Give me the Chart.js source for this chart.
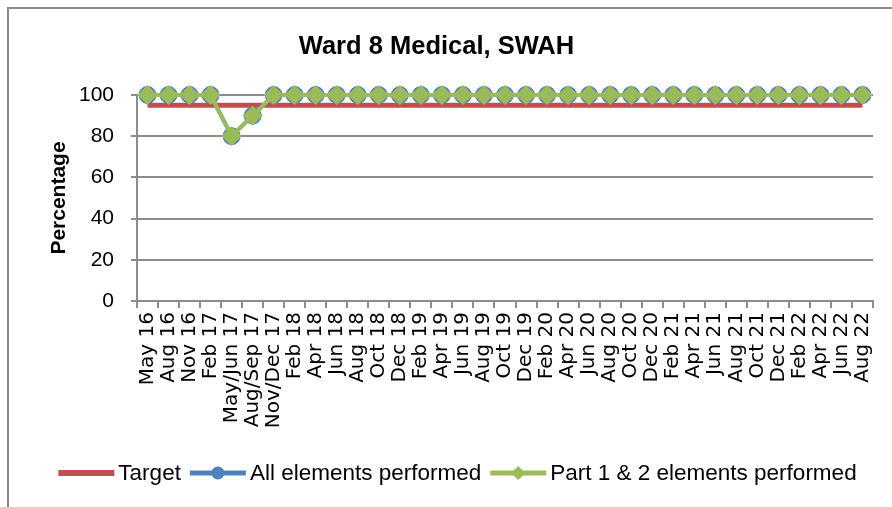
<!DOCTYPE html>
<html>
<head>
<meta charset="utf-8">
<script src="https://cdn.jsdelivr.net/npm/chart.js@4"></script>
<style>
  html, body { margin: 0; padding: 0; background: #fff; }
  #frame { position: absolute; left: 7px; top: 7px; width: 900px; height: 510px;
           border-left: 2px solid #8a8a8a; border-top: 2px solid #8a8a8a; }
  #wrap { position: absolute; left: 0; top: 0; width: 892px; height: 507px; }
</style>
</head>
<body>
<div id="frame"></div>
<div id="wrap"><canvas id="myChart" width="892" height="507"></canvas></div>
<script>
// tick labels along the x axis
var labels = ['May 16', 'Aug 16', 'Nov 16', 'Feb 17', 'May/Jun 17', 'Aug/Sep 17', 'Nov/Dec 17',
  'Feb 18', 'Apr 18', 'Jun 18', 'Aug 18', 'Oct 18', 'Dec 18',
  'Feb 19', 'Apr 19', 'Jun 19', 'Aug 19', 'Oct 19', 'Dec 19',
  'Feb 20', 'Apr 20', 'Jun 20', 'Aug 20', 'Oct 20', 'Dec 20',
  'Feb 21', 'Apr 21', 'Jun 21', 'Aug 21', 'Oct 21', 'Dec 21',
  'Feb 22', 'Apr 22', 'Jun 22', 'Aug 22']

var target = [95, 95, 95, 95, 95, 95, 95, 95, 95, 95, 95, 95, 95, 95, 95, 95, 95, 95,
  95, 95, 95, 95, 95, 95, 95, 95, 95, 95, 95, 95, 95, 95, 95, 95, 95]

var allElements = [100, 100, 100, 100, 80, 90, 100, 100, 100, 100, 100, 100, 100, 100, 100, 100, 100, 100,
  100, 100, 100, 100, 100, 100, 100, 100, 100, 100, 100, 100, 100, 100, 100, 100, 100]

var part12 = [100, 100, 100, 100, 80, 90, 100, 100, 100, 100, 100, 100, 100, 100, 100, 100, 100, 100,
  100, 100, 100, 100, 100, 100, 100, 100, 100, 100, 100, 100, 100, 100, 100, 100, 100]

var yTicks = [0, 20, 40, 60, 80, 100]

var gridGray = '#8c8c8c'

// legend drawn under the chart: line with marker in the middle, then the text
var bottomLegend = {
    id: 'bottomLegend',
    afterDraw: function(chart) {
        var ctx = chart.ctx
        var y = 473
        var items = chart.data.datasets.slice().sort(function(a, b) { return a.legendIndex - b.legendIndex })
        ctx.save()
        ctx.font = '22.5px "Liberation Sans", Arial, sans-serif'
        ctx.textBaseline = 'middle'
        var lineW = 56
        var widths = items.map(function(d) { return lineW + 5 + ctx.measureText(d.label).width })
        var gap = 8
        var total = widths.reduce(function(s, w) { return s + w }, 0) + gap * (items.length - 1)
        var x = 458 - total / 2
        items.forEach(function(d, i) {
            ctx.strokeStyle = d.borderColor
            ctx.lineWidth = d.borderWidth + 1
            ctx.beginPath()
            ctx.moveTo(x, y)
            ctx.lineTo(x + lineW, y)
            ctx.stroke()
            var cx = x + lineW / 2
            ctx.fillStyle = d.borderColor
            if (d.pointRadius > 0) {
                ctx.beginPath()
                if (d.pointStyle === 'rectRot') {
                    ctx.moveTo(cx, y - 7); ctx.lineTo(cx + 7, y); ctx.lineTo(cx, y + 7); ctx.lineTo(cx - 7, y)
                    ctx.closePath()
                } else {
                    ctx.arc(cx, y, 6.5, 0, Math.PI * 2)
                }
                ctx.fill()
            }
            ctx.fillStyle = '#000'
            ctx.fillText(d.label, x + lineW + 4, y + 1)
            x += widths[i] + gap
        })
        ctx.restore()
    }
}

var ctx = document.getElementById('myChart')
var myChart = new Chart(ctx, {
    type: 'line',
    data: {
        labels: labels,
        datasets: [{
            label: 'Part 1 & 2 elements performed',
            legendIndex: 2,
            data: part12,
            borderColor: '#9BBB59',
            backgroundColor: '#9BBB59',
            borderWidth: 4,
            pointStyle: 'rectRot',
            pointRadius: 9.5,
            pointBorderWidth: 1,
            pointBorderColor: '#9BBB59',
            order: 0,
            clip: false
        }, {
            label: 'All elements performed',
            legendIndex: 1,
            data: allElements,
            borderColor: '#4F81BD',
            backgroundColor: '#4F81BD',
            borderWidth: 4,
            pointStyle: 'circle',
            pointRadius: 8.5,
            pointBorderWidth: 1,
            order: 1,
            clip: false
        }, {
            label: 'Target',
            legendIndex: 0,
            data: target,
            borderColor: '#C0504D',
            backgroundColor: '#C0504D',
            borderWidth: 5,
            pointRadius: 0,
            order: 2,
            clip: false
        }]
    },
    options: {
        responsive: false,
        animation: false,
        events: [],
        layout: { padding: { left: 0, right: 19, top: 0, bottom: 56 } },
        plugins: {
            legend: { display: false },
            tooltip: { enabled: false },
            title: {
                display: true,
                text: 'Ward 8 Medical, SWAH',
                color: '#000',
                font: { family: '"Liberation Sans", Arial, sans-serif', size: 25.5, weight: 'bold' },
                padding: { top: 32, bottom: 32.4 }
            }
        },
        scales: {
            x: {
                offset: true,
                afterFit: function(s) { s.height = 150 },
                grid: {
                    offset: true,
                    drawOnChartArea: false,
                    drawTicks: true,
                    tickLength: 7,
                    color: gridGray,
                    lineWidth: 2
                },
                border: { color: gridGray, width: 2 },
                ticks: {
                    autoSkip: false,
                    minRotation: 90,
                    maxRotation: 90,
                    padding: 4,
                    color: '#000',
                    font: { family: '"DejaVu Sans", sans-serif', size: 20 }
                }
            },
            y: {
                min: 0,
                max: 100,
                afterFit: function(s) { s.width = 137 },
                afterBuildTicks: function(s) { s.ticks = yTicks.map(function(v) { return { value: v } }) },
                grid: { color: gridGray, lineWidth: 2, tickLength: 6 },
                border: { color: gridGray, width: 2 },
                ticks: {
                    padding: 17,
                    color: '#000',
                    font: { family: '"Liberation Sans", Arial, sans-serif', size: 21 }
                },
                title: {
                    display: true,
                    text: 'Percentage',
                    color: '#000',
                    font: { family: '"Liberation Sans", Arial, sans-serif', size: 21, weight: 'bold' },
                    padding: { top: 47, bottom: 0 }
                }
            }
        }
    },
    plugins: [bottomLegend]
});
</script>
</body>
</html>
